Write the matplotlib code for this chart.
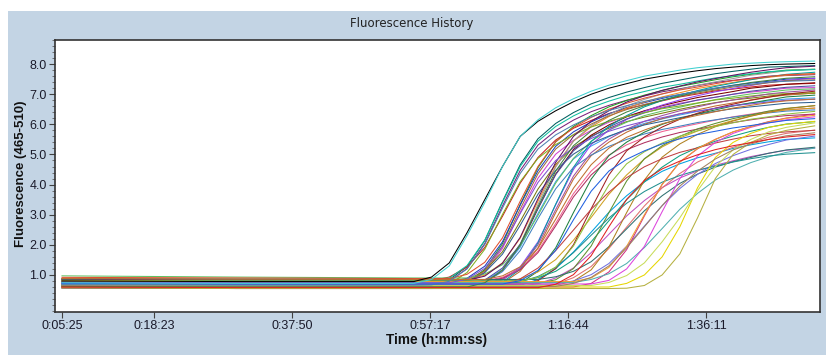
import matplotlib
matplotlib.use('Agg')
import matplotlib.pyplot as plt
from matplotlib.patches import Rectangle
from matplotlib.ticker import MultipleLocator

plt.rcParams['font.family'] = ['Liberation Sans', 'DejaVu Sans']

# sample times (seconds from run start)
times = [325, 1800, 3300, 3450, 3600, 3750, 3900, 4050, 4200, 4350, 4500, 4650,
         4800, 4950, 5100, 5250, 5400, 5550, 5700, 5850, 6000, 6150, 6300, 6450, 6690]

tick_seconds = [325, 1103, 2270, 3437, 4604, 5771]
tick_labels = ['0:05:25', '0:18:23', '0:37:50', '0:57:17', '1:16:44', '1:36:11']
y_ticks = [1, 2, 3, 4, 5, 6, 7, 8]

# fluorescence per well
well_01 = [0.8, 0.78, 0.78, 0.93, 1.4, 2.4, 3.5, 4.6, 5.6, 6.1, 6.45, 6.75, 7.0, 7.2, 7.35, 7.5, 7.6, 7.7, 7.78, 7.85, 7.9, 7.95, 7.98, 8.0, 8.02]
well_02 = [0.74, 0.72, 0.72, 0.85, 1.3, 2.3, 3.4, 4.6, 5.6, 6.15, 6.55, 6.85, 7.1, 7.3, 7.45, 7.6, 7.7, 7.8, 7.88, 7.94, 8.0, 8.03, 8.06, 8.08, 8.1]
well_03 = [0.72, 0.7, 0.7, 0.72, 0.84, 1.28, 2.14, 3.44, 4.66, 5.52, 6.03, 6.39, 6.68, 6.89, 7.07, 7.22, 7.36, 7.47, 7.58, 7.68, 7.76, 7.83, 7.9, 7.92, 7.95]
well_04 = [0.66, 0.65, 0.65, 0.66, 0.79, 1.21, 2.04, 3.29, 4.47, 5.31, 5.79, 6.14, 6.42, 6.63, 6.8, 6.94, 7.08, 7.18, 7.29, 7.39, 7.46, 7.53, 7.6, 7.62, 7.65]
well_05 = [0.85, 0.82, 0.8, 0.81, 0.93, 1.26, 1.91, 2.95, 4.05, 4.9, 5.48, 5.87, 6.13, 6.36, 6.52, 6.65, 6.78, 6.91, 7.01, 7.11, 7.17, 7.24, 7.3, 7.33, 7.36]
well_06 = [0.62, 0.6, 0.6, 0.6, 0.61, 0.74, 1.18, 2.04, 3.34, 4.56, 5.42, 5.93, 6.29, 6.58, 6.79, 6.97, 7.12, 7.26, 7.37, 7.48, 7.58, 7.66, 7.73, 7.8, 7.83]
well_07 = [0.78, 0.76, 0.75, 0.75, 0.76, 0.89, 1.29, 2.1, 3.32, 4.46, 5.27, 5.75, 6.08, 6.35, 6.56, 6.72, 6.86, 6.99, 7.1, 7.2, 7.3, 7.37, 7.43, 7.5, 7.53]
well_08 = [0.57, 0.55, 0.55, 0.55, 0.56, 0.68, 1.08, 1.88, 3.08, 4.21, 5.01, 5.47, 5.8, 6.07, 6.27, 6.44, 6.57, 6.7, 6.8, 6.9, 7.0, 7.07, 7.13, 7.2, 7.22]
well_09 = [0.72, 0.7, 0.7, 0.7, 0.71, 0.83, 1.14, 1.77, 2.78, 3.85, 4.67, 5.24, 5.61, 5.87, 6.09, 6.24, 6.37, 6.5, 6.62, 6.72, 6.81, 6.87, 6.94, 7.0, 7.03]
well_10 = [0.88, 0.86, 0.85, 0.85, 0.85, 0.86, 0.99, 1.4, 2.22, 3.45, 4.62, 5.44, 5.92, 6.26, 6.54, 6.74, 6.91, 7.05, 7.19, 7.29, 7.39, 7.49, 7.56, 7.63, 7.68]
well_11 = [0.64, 0.62, 0.62, 0.62, 0.62, 0.63, 0.76, 1.16, 1.98, 3.2, 4.35, 5.16, 5.64, 5.98, 6.25, 6.45, 6.62, 6.76, 6.89, 6.99, 7.09, 7.2, 7.26, 7.33, 7.38]
well_12 = [0.7, 0.68, 0.68, 0.68, 0.68, 0.69, 0.8, 1.18, 1.92, 3.04, 4.1, 4.85, 5.28, 5.59, 5.84, 6.03, 6.18, 6.31, 6.43, 6.53, 6.62, 6.71, 6.78, 6.84, 6.88]
well_13 = [0.6, 0.58, 0.58, 0.58, 0.58, 0.59, 0.73, 1.16, 2.03, 3.34, 4.58, 5.45, 5.96, 6.32, 6.61, 6.83, 7.01, 7.16, 7.3, 7.41, 7.52, 7.63, 7.7, 7.78, 7.83]
well_14 = [0.97, 0.93, 0.9, 0.9, 0.9, 0.9, 1.03, 1.34, 1.97, 2.98, 4.05, 4.87, 5.44, 5.81, 6.07, 6.29, 6.44, 6.57, 6.7, 6.82, 6.92, 7.01, 7.07, 7.14, 7.18]
well_15 = [0.74, 0.72, 0.72, 0.72, 0.72, 0.72, 0.73, 0.86, 1.27, 2.1, 3.33, 4.5, 5.33, 5.81, 6.16, 6.43, 6.64, 6.81, 6.95, 7.08, 7.19, 7.29, 7.39, 7.46, 7.53]
well_16 = [0.62, 0.6, 0.6, 0.6, 0.6, 0.6, 0.61, 0.73, 1.12, 1.9, 3.07, 4.18, 4.96, 5.41, 5.74, 6.0, 6.19, 6.35, 6.48, 6.61, 6.71, 6.81, 6.91, 6.97, 7.04]
well_17 = [0.83, 0.8, 0.8, 0.8, 0.8, 0.8, 0.81, 0.92, 1.21, 1.79, 2.71, 3.7, 4.45, 4.98, 5.32, 5.56, 5.76, 5.9, 6.02, 6.14, 6.25, 6.34, 6.43, 6.48, 6.54]
well_18 = [0.68, 0.66, 0.66, 0.66, 0.66, 0.78, 1.08, 1.69, 2.65, 3.68, 4.47, 5.01, 5.37, 5.61, 5.82, 5.98, 6.1, 6.22, 6.34, 6.43, 6.52, 6.58, 6.64, 6.7, 6.73]
well_19 = [0.77, 0.75, 0.75, 0.76, 0.89, 1.31, 2.15, 3.41, 4.6, 5.44, 5.93, 6.28, 6.56, 6.77, 6.95, 7.09, 7.23, 7.33, 7.44, 7.54, 7.61, 7.68, 7.75, 7.78, 7.82]
well_20 = [0.6, 0.58, 0.58, 0.58, 0.58, 0.72, 1.13, 1.95, 3.19, 4.36, 5.18, 5.66, 6.01, 6.28, 6.49, 6.66, 6.8, 6.93, 7.04, 7.14, 7.24, 7.31, 7.38, 7.45, 7.48]
well_21 = [0.72, 0.7, 0.7, 0.7, 0.7, 0.7, 0.83, 1.23, 2.02, 3.21, 4.33, 5.12, 5.58, 5.91, 6.18, 6.38, 6.54, 6.67, 6.81, 6.9, 7.0, 7.1, 7.17, 7.23, 7.28]
well_22 = [0.64, 0.62, 0.62, 0.62, 0.62, 0.62, 0.63, 0.76, 1.19, 2.06, 3.35, 4.57, 5.43, 5.93, 6.29, 6.58, 6.79, 6.97, 7.12, 7.26, 7.37, 7.48, 7.58, 7.66, 7.73]
well_23 = [0.8, 0.78, 0.78, 0.78, 0.78, 0.78, 0.79, 0.89, 1.17, 1.74, 2.63, 3.59, 4.32, 4.83, 5.16, 5.39, 5.58, 5.73, 5.84, 5.95, 6.06, 6.15, 6.23, 6.29, 6.34]
well_24 = [0.58, 0.56, 0.56, 0.57, 0.69, 1.08, 1.85, 3.01, 4.1, 4.87, 5.33, 5.65, 5.91, 6.1, 6.26, 6.39, 6.52, 6.61, 6.71, 6.81, 6.87, 6.94, 7.0, 7.02, 7.05]
well_25 = [0.92, 0.9, 0.88, 0.88, 0.88, 1.02, 1.42, 2.23, 3.45, 4.6, 5.42, 5.89, 6.23, 6.5, 6.7, 6.87, 7.01, 7.14, 7.24, 7.35, 7.45, 7.51, 7.58, 7.65, 7.68]
well_26 = [0.66, 0.64, 0.64, 0.64, 0.64, 0.64, 0.76, 1.11, 1.81, 2.87, 3.86, 4.57, 4.98, 5.27, 5.5, 5.68, 5.83, 5.94, 6.06, 6.15, 6.24, 6.32, 6.38, 6.44, 6.48]
well_27 = [0.72, 0.7, 0.7, 0.7, 0.7, 0.7, 0.71, 0.83, 1.22, 2.0, 3.17, 4.28, 5.06, 5.51, 5.84, 6.1, 6.29, 6.45, 6.58, 6.71, 6.81, 6.91, 7.01, 7.07, 7.14]
well_28 = [0.85, 0.83, 0.82, 0.82, 0.82, 0.82, 0.96, 1.39, 2.25, 3.53, 4.74, 5.6, 6.1, 6.45, 6.74, 6.95, 7.13, 7.27, 7.41, 7.52, 7.63, 7.73, 7.81, 7.88, 7.93]
well_29 = [0.62, 0.6, 0.6, 0.6, 0.6, 0.6, 0.6, 0.61, 0.73, 1.12, 1.9, 3.07, 4.18, 4.96, 5.41, 5.74, 6.0, 6.19, 6.35, 6.48, 6.61, 6.71, 6.81, 6.91, 6.97]
well_30 = [0.78, 0.76, 0.75, 0.75, 0.75, 0.75, 0.75, 0.75, 0.87, 1.1, 1.51, 2.15, 2.91, 3.68, 4.32, 4.85, 5.25, 5.55, 5.78, 5.96, 6.13, 6.28, 6.4, 6.48, 6.54]
well_31 = [0.57, 0.55, 0.55, 0.55, 0.55, 0.55, 0.55, 0.55, 0.65, 0.85, 1.21, 1.76, 2.42, 3.08, 3.63, 4.09, 4.44, 4.69, 4.89, 5.04, 5.2, 5.32, 5.42, 5.5, 5.55]
well_32 = [0.7, 0.68, 0.68, 0.68, 0.68, 0.68, 0.68, 0.68, 0.69, 0.81, 1.21, 2.0, 3.2, 4.32, 5.12, 5.58, 5.91, 6.17, 6.37, 6.54, 6.67, 6.8, 6.9, 7.0, 7.1]
well_33 = [0.83, 0.8, 0.8, 0.8, 0.8, 0.8, 0.8, 0.8, 0.8, 0.91, 1.12, 1.5, 2.1, 2.8, 3.5, 4.09, 4.58, 4.96, 5.23, 5.44, 5.61, 5.77, 5.9, 6.01, 6.09]
well_34 = [0.64, 0.62, 0.62, 0.62, 0.62, 0.62, 0.62, 0.62, 0.62, 0.71, 0.9, 1.23, 1.74, 2.35, 2.96, 3.47, 3.9, 4.22, 4.46, 4.64, 4.79, 4.93, 5.04, 5.14, 5.21]
well_35 = [0.74, 0.72, 0.72, 0.72, 0.72, 0.72, 0.72, 0.72, 0.72, 0.72, 0.84, 1.21, 1.96, 3.07, 4.12, 4.86, 5.29, 5.6, 5.85, 6.03, 6.19, 6.31, 6.44, 6.53, 6.62]
well_36 = [0.6, 0.58, 0.58, 0.58, 0.58, 0.58, 0.58, 0.58, 0.58, 0.58, 0.69, 0.91, 1.28, 1.88, 2.59, 3.29, 3.89, 4.37, 4.75, 5.02, 5.24, 5.4, 5.57, 5.7, 5.81]
well_37 = [0.88, 0.86, 0.85, 0.85, 0.85, 0.85, 0.85, 0.85, 0.85, 0.85, 0.94, 1.12, 1.44, 1.94, 2.53, 3.13, 3.63, 4.04, 4.35, 4.58, 4.76, 4.9, 5.04, 5.15, 5.24]
well_38 = [0.68, 0.66, 0.66, 0.66, 0.66, 0.66, 0.66, 0.66, 0.66, 0.66, 0.66, 0.79, 1.17, 1.93, 3.07, 4.15, 4.91, 5.35, 5.67, 5.92, 6.11, 6.27, 6.4, 6.52, 6.62]
well_39 = [0.72, 0.7, 0.7, 0.7, 0.7, 0.7, 0.7, 0.7, 0.7, 0.7, 0.7, 0.8, 1.01, 1.38, 1.95, 2.62, 3.3, 3.87, 4.34, 4.7, 4.96, 5.17, 5.33, 5.48, 5.61]
well_40 = [0.62, 0.6, 0.6, 0.6, 0.6, 0.6, 0.6, 0.6, 0.6, 0.6, 0.6, 0.6, 0.72, 1.1, 1.84, 2.96, 4.01, 4.75, 5.19, 5.5, 5.75, 5.93, 6.09, 6.21, 6.34]
well_41 = [0.78, 0.76, 0.75, 0.75, 0.75, 0.75, 0.75, 0.75, 0.75, 0.75, 0.75, 0.75, 0.85, 1.04, 1.38, 1.91, 2.54, 3.18, 3.71, 4.15, 4.48, 4.73, 4.92, 5.07, 5.21]
well_42 = [0.57, 0.55, 0.55, 0.55, 0.55, 0.55, 0.55, 0.66, 0.87, 1.23, 1.81, 2.49, 3.18, 3.75, 4.23, 4.59, 4.86, 5.07, 5.22, 5.38, 5.51, 5.62, 5.7, 5.75, 5.8]
well_43 = [0.7, 0.68, 0.68, 0.68, 0.68, 0.68, 0.68, 0.68, 0.77, 0.95, 1.25, 1.74, 2.32, 2.89, 3.38, 3.77, 4.08, 4.3, 4.48, 4.61, 4.75, 4.86, 4.95, 5.01, 5.06]
well_44 = [0.82, 0.8, 0.8, 0.8, 0.8, 0.8, 0.8, 0.8, 0.8, 0.92, 1.26, 1.96, 3.0, 3.99, 4.69, 5.09, 5.38, 5.61, 5.79, 5.93, 6.05, 6.17, 6.25, 6.34, 6.43]
well_45 = [0.62, 0.6, 0.6, 0.6, 0.6, 0.6, 0.6, 0.6, 0.6, 0.6, 0.6, 0.6, 0.6, 0.6, 0.72, 1.0, 1.6, 2.6, 3.9, 4.9, 5.4, 5.7, 5.9, 6.0, 6.1]
well_46 = [0.57, 0.55, 0.55, 0.55, 0.55, 0.55, 0.55, 0.55, 0.55, 0.55, 0.55, 0.55, 0.55, 0.55, 0.56, 0.65, 1.0, 1.7, 2.9, 4.2, 5.0, 5.4, 5.65, 5.8, 5.95]
well_47 = [0.72, 0.7, 0.7, 0.7, 0.7, 0.7, 0.7, 0.7, 0.7, 0.7, 0.7, 0.7, 0.7, 0.82, 1.2, 1.95, 3.1, 4.2, 4.95, 5.4, 5.7, 5.9, 6.05, 6.15, 6.25]
well_48 = [0.67, 0.65, 0.65, 0.65, 0.65, 0.65, 0.65, 0.65, 0.65, 0.65, 0.65, 0.65, 0.65, 0.75, 0.98, 1.4, 2.1, 2.9, 3.8, 4.6, 5.15, 5.5, 5.75, 5.9, 6.05]
well_49 = [0.8, 0.78, 0.78, 0.78, 0.78, 0.78, 0.78, 0.78, 0.78, 0.78, 0.78, 0.78, 0.9, 1.25, 1.95, 3.0, 4.0, 4.75, 5.2, 5.5, 5.75, 5.92, 6.08, 6.2, 6.3]
well_50 = [0.64, 0.62, 0.62, 0.62, 0.62, 0.62, 0.62, 0.62, 0.62, 0.62, 0.62, 0.72, 0.92, 1.3, 1.9, 2.6, 3.3, 3.95, 4.45, 4.85, 5.15, 5.35, 5.5, 5.62, 5.72]
well_51 = [0.76, 0.74, 0.74, 0.74, 0.74, 0.86, 1.22, 1.95, 3.04, 4.07, 4.8, 5.22, 5.53, 5.77, 5.95, 6.1, 6.22, 6.35, 6.44, 6.53, 6.62, 6.68, 6.74, 6.8, 6.83]
well_52 = [0.62, 0.6, 0.6, 0.6, 0.6, 0.6, 0.74, 1.16, 2.0, 3.26, 4.45, 5.29, 5.78, 6.13, 6.41, 6.62, 6.8, 6.94, 7.08, 7.18, 7.29, 7.39, 7.46, 7.53, 7.58]
well_53 = [0.88, 0.86, 0.85, 0.85, 0.85, 0.85, 0.85, 0.97, 1.27, 1.88, 2.85, 3.88, 4.66, 5.21, 5.57, 5.81, 6.02, 6.17, 6.3, 6.42, 6.54, 6.63, 6.72, 6.78, 6.84]
well_54 = [0.68, 0.66, 0.66, 0.67, 0.79, 1.2, 2.01, 3.22, 4.37, 5.18, 5.65, 5.98, 6.25, 6.46, 6.62, 6.76, 6.89, 6.99, 7.1, 7.2, 7.27, 7.33, 7.4, 7.43, 7.46]
well_55 = [0.72, 0.7, 0.7, 0.7, 0.7, 0.7, 0.7, 0.7, 0.81, 1.15, 1.82, 2.83, 3.78, 4.45, 4.84, 5.12, 5.35, 5.52, 5.66, 5.77, 5.88, 5.96, 6.05, 6.13, 6.19]
well_56 = [0.6, 0.58, 0.58, 0.58, 0.58, 0.58, 0.58, 0.58, 0.58, 0.58, 0.69, 1.01, 1.64, 2.6, 3.51, 4.14, 4.52, 4.78, 4.99, 5.16, 5.29, 5.39, 5.5, 5.58, 5.66]

wells = [well_01, well_02, well_03, well_04, well_05, well_06, well_07, well_08,
         well_09, well_10, well_11, well_12, well_13, well_14, well_15, well_16,
         well_17, well_18, well_19, well_20, well_21, well_22, well_23, well_24,
         well_25, well_26, well_27, well_28, well_29, well_30, well_31, well_32,
         well_33, well_34, well_35, well_36, well_37, well_38, well_39, well_40,
         well_41, well_42, well_43, well_44, well_45, well_46, well_47, well_48,
         well_49, well_50, well_51, well_52, well_53, well_54, well_55, well_56]

colors = ['#000000', '#40d0d0', '#006060', '#7a1f7a', '#c81e1e', '#1f9f1f', '#2040c0', '#d040d0',
          '#7a7a10', '#f08c28', '#7a0000', '#3c9cf0', '#9a9a9a', '#60c060', '#9040f0', '#c06a30',
          '#f06090', '#306090', '#10c0a0', '#a07040', '#5050a0', '#00a0a0', '#b03060', '#80b020',
          '#e05030', '#4080c0', '#a050a0', '#601060', '#208040', '#d0a020', '#00a0e0', '#a02020',
          '#10a080', '#c050c0', '#609030', '#e07070', '#307070', '#b08020', '#7070e0', '#d03080',
          '#50b0b0', '#c04040', '#209090', '#90c040', '#e6d600', '#b5b040', '#dd44dd', '#c8dc5a',
          '#f0a030', '#a08060', '#8050d0', '#408040', '#c07030', '#5080b0', '#2060e0', '#e02020']

panel_color = '#c3d4e4'
W, H = 826, 356

fig = plt.figure(figsize=(W / 100, H / 100), dpi=100)
fig.patch.set_facecolor('white')
fig.patches.append(Rectangle((8 / W, 1 / H), 1 - 8 / W, 344 / H,
                             transform=fig.transFigure, facecolor=panel_color,
                             edgecolor='none', zorder=-1))

ax = fig.add_axes([55 / W, 1 - 312 / H, 765 / W, 272 / H])
ax.set_facecolor('white')

for i, vals in enumerate(wells):
    z = 3 if i < 2 else 2
    ax.plot(times, vals, color=colors[i], lw=0.75, zorder=z)

ax.set_xlim(266, 6735)
ax.set_ylim(-0.23, 8.8)
ax.set_xticks(tick_seconds)
ax.set_xticklabels(tick_labels)
ax.set_yticks(y_ticks)
ax.set_yticklabels([f'{v:.1f}' for v in y_ticks])
ax.yaxis.set_minor_locator(MultipleLocator(0.2))
ax.tick_params(axis='both', which='major', direction='out', length=4, width=0.8,
               color='#404040', labelsize=9, labelcolor='#1a1a2a', pad=2)
ax.tick_params(axis='y', which='minor', direction='out', length=2, width=0.6, color='#606060')
for s in ax.spines.values():
    s.set_color('#333333')
    s.set_linewidth(1.2)

fig.text(412 / W, 1 - 23 / H, 'Fluorescence History', ha='center', va='center',
         fontsize=8.5, color='#222222', family=['DejaVu Sans'])
fig.text(437 / W, 1 - 340 / H, 'Time (h:mm:ss)', ha='center', va='center',
         fontsize=9.8, fontweight='bold', color='#111111')
fig.text(21 / W, 1 - 174 / H, 'Fluorescence (465-510)', ha='center', va='center',
         rotation=90, fontsize=9.5, fontweight='bold', color='#111111')

fig.savefig('out.png', dpi=100)
